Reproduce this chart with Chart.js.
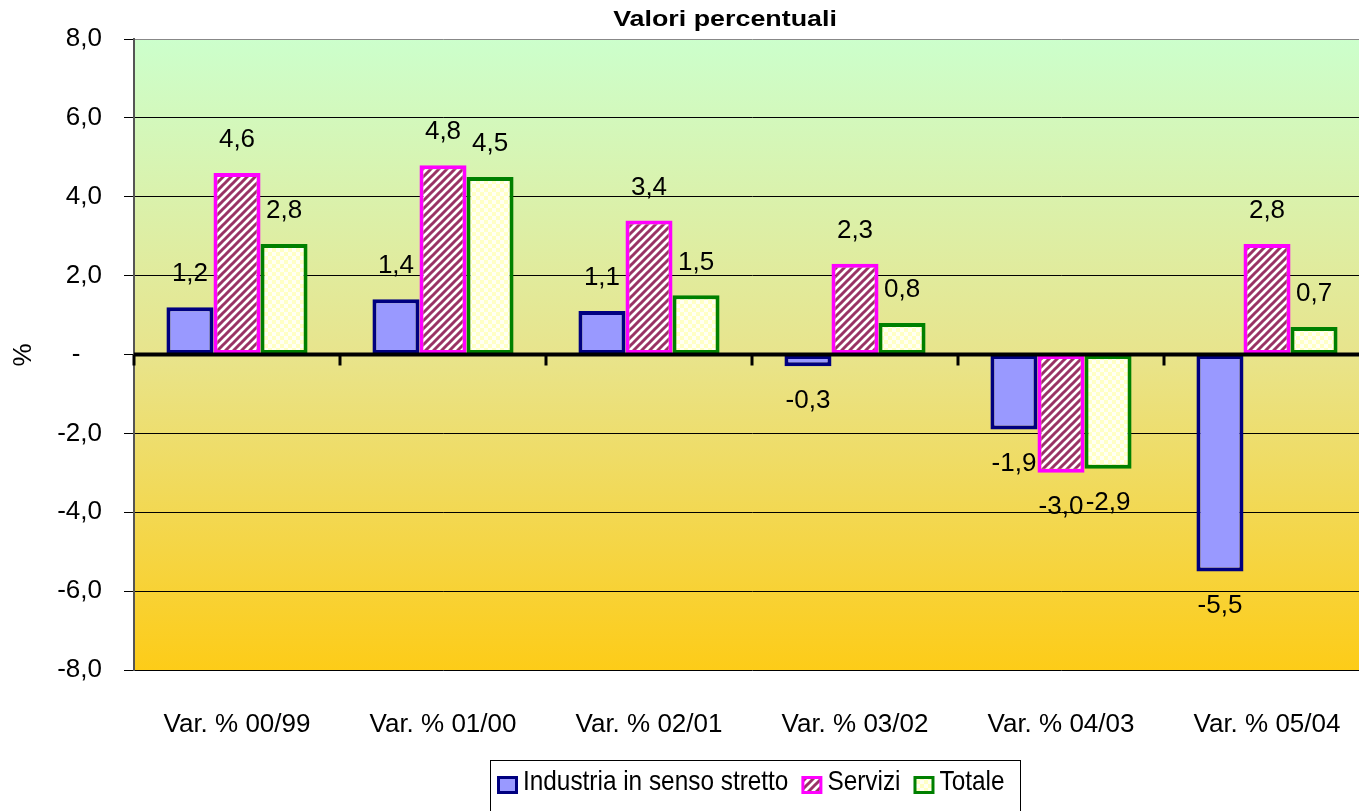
<!DOCTYPE html>
<html>
<head>
<meta charset="utf-8">
<script src="https://cdn.jsdelivr.net/npm/chart.js@4.4.1/dist/chart.umd.min.js"></script>
<style>
  html, body { margin: 0; padding: 0; background: #fff; overflow: hidden; }
  #wrap { width: 1359px; height: 811px; overflow: hidden; }
</style>
</head>
<body>
<div id="wrap"><canvas id="barChart" width="1372" height="811"></canvas></div>
<script>
// categorie e valori (variazioni %)
var categorie = ["Var. % 00/99", "Var. % 01/00", "Var. % 02/01", "Var. % 03/02", "Var. % 04/03", "Var. % 05/04"];
var industria = [1.2, 1.4, 1.1, -0.3, -1.9, -5.5];
var servizi = [4.6, 4.8, 3.4, 2.3, -3.0, 2.8];
var totale = [2.8, 4.5, 1.5, 0.8, -2.9, 0.7];
var nomiSerie = ["Industria in senso stretto", "Servizi", "Totale"];

var FONT = "'Liberation Sans', Arial, sans-serif";

function fmt(v) {
  return v.toFixed(1).replace('.', ',');
}

// pattern a righe diagonali per Servizi
function stripes() {
  var c = document.createElement('canvas');
  c.width = 8; c.height = 8;
  var x = c.getContext('2d');
  x.fillStyle = '#ffffff';
  x.fillRect(0, 0, 8, 8);
  x.strokeStyle = '#993366';
  x.lineWidth = 3;
  x.beginPath();
  x.moveTo(-2, 10); x.lineTo(10, -2);
  x.moveTo(-6, 6); x.lineTo(6, -6);
  x.moveTo(2, 14); x.lineTo(14, 2);
  x.stroke();
  return x.createPattern(c, 'repeat');
}

// pattern a scacchi per Totale
function checker() {
  var c = document.createElement('canvas');
  c.width = 8; c.height = 8;
  var x = c.getContext('2d');
  x.fillStyle = '#fffff4';
  x.fillRect(0, 0, 8, 8);
  x.fillStyle = '#ffffc4';
  x.fillRect(0, 0, 4, 4);
  x.fillRect(4, 4, 4, 4);
  return x.createPattern(c, 'repeat');
}

var fillServizi = stripes();
var fillTotale = checker();

var sfondo = {
  id: 'sfondo',
  beforeDraw: function(chart) {
    var a = chart.chartArea, ctx = chart.ctx;
    var g = ctx.createLinearGradient(0, a.top, 0, a.bottom);
    g.addColorStop(0, '#ccffcc');
    g.addColorStop(0.5, '#e8e48c');
    g.addColorStop(1, '#fdcc18');
    ctx.save();
    ctx.fillStyle = g;
    ctx.fillRect(a.left, a.top, a.right - a.left, a.bottom - a.top);
    ctx.restore();
  }
};

var extra = {
  id: 'extra',
  afterDatasetsDraw: function(chart) {
    var ctx = chart.ctx, a = chart.chartArea;
    var y0 = chart.scales.y.getPixelForValue(0);
    ctx.save();
    // linea dello zero
    ctx.strokeStyle = '#000';
    ctx.lineWidth = 4;
    ctx.beginPath();
    ctx.moveTo(a.left, y0);
    ctx.lineTo(a.right, y0);
    ctx.stroke();
    // tacche delle categorie
    var n = categorie.length;
    var w = (a.right - a.left) / n;
    ctx.lineWidth = 3;
    for (var i = 0; i <= n; i++) {
      var xx = Math.round(a.left + i * w);
      ctx.beginPath();
      ctx.moveTo(xx, y0);
      ctx.lineTo(xx, y0 + 11);
      ctx.stroke();
    }
    // etichette dei valori
    ctx.fillStyle = '#000';
    ctx.font = '26px ' + FONT;
    ctx.textAlign = 'center';
    ctx.textBaseline = 'middle';
    chart.data.datasets.forEach(function(ds, di) {
      chart.getDatasetMeta(di).data.forEach(function(bar, i) {
        var v = ds.data[i];
        var ty = v >= 0 ? bar.y - 33 : bar.y + 34;
        ctx.fillText(fmt(v), bar.x, ty);
      });
    });
    ctx.restore();
  },
  afterDraw: function(chart) {
    var ctx = chart.ctx;
    ctx.save();
    // titolo
    ctx.fillStyle = '#000';
    ctx.font = 'bold 22px ' + FONT;
    ctx.textAlign = 'center';
    ctx.textBaseline = 'middle';
    ctx.translate(725, 20);
    ctx.scale(1.22, 1);
    ctx.fillText('Valori percentuali', 0, 0);
    ctx.restore();

    // titolo asse y
    ctx.save();
    ctx.font = '26px ' + FONT;
    ctx.fillStyle = '#000';
    ctx.translate(24, 355);
    ctx.rotate(-Math.PI / 2);
    ctx.textAlign = 'center';
    ctx.textBaseline = 'middle';
    ctx.fillText('%', 0, 0);
    ctx.restore();

    // legenda (testo stretto)
    ctx.save();
    ctx.strokeStyle = '#000';
    ctx.lineWidth = 1;
    ctx.fillStyle = '#fff';
    ctx.fillRect(490.5, 760.5, 530, 60);
    ctx.strokeRect(490.5, 760.5, 530, 60);
    ctx.font = '28px ' + FONT;
    ctx.textBaseline = 'middle';
    ctx.textAlign = 'left';
    var sx = 0.87;
    var x = 497;
    chart.data.datasets.forEach(function(ds, di) {
      ctx.fillStyle = ds.borderColor;
      ctx.fillRect(x, 776, 21, 18);
      ctx.fillStyle = ds.backgroundColor;
      ctx.fillRect(x + 3, 779, 15, 12);
      ctx.fillStyle = '#000';
      ctx.save();
      ctx.translate(x + 26, 782);
      ctx.scale(sx, 1);
      ctx.fillText(nomiSerie[di], 0, 0);
      ctx.restore();
      x += 26 + ctx.measureText(nomiSerie[di]).width * sx + 13;
    });
    ctx.restore();
  }
};

new Chart("barChart", {
  type: "bar",
  data: {
    labels: categorie,
    datasets: [{
      label: nomiSerie[0],
      data: industria,
      backgroundColor: "#9999ff",
      borderColor: "#000080",
      borderWidth: 4,
      borderSkipped: false
    }, {
      label: nomiSerie[1],
      data: servizi,
      backgroundColor: fillServizi,
      borderColor: "#ff00ff",
      borderWidth: 4,
      borderSkipped: false
    }, {
      label: nomiSerie[2],
      data: totale,
      backgroundColor: fillTotale,
      borderColor: "#008000",
      borderWidth: 4,
      borderSkipped: false
    }]
  },
  options: {
    responsive: false,
    animation: false,
    devicePixelRatio: 1,
    categoryPercentage: 0.685,
    barPercentage: 1,
    layout: {
      padding: { top: 39, left: 0, right: 2, bottom: 0 }
    },
    plugins: {
      legend: { display: false },
      title: { display: false },
      tooltip: { enabled: false }
    },
    scales: {
      x: {
        grid: { display: false },
        border: { display: false },
        ticks: {
          color: '#000',
          padding: 31,
          maxRotation: 0,
          font: { family: FONT, size: 26 }
        },
        afterFit: function(scale) { scale.height = 141; }
      },
      y: {
        min: -8,
        max: 8,
        ticks: {
          stepSize: 2,
          color: '#000',
          padding: 22,
          font: { family: FONT, size: 26 },
          callback: function(v) { return v === 0 ? '-   ' : fmt(v); }
        },
        grid: {
          color: function(c) { return c.tick && c.tick.value === 8 ? '#888888' : '#000000'; },
          lineWidth: 1,
          tickLength: 10,
          tickColor: '#000'
        },
        border: { color: '#555', width: 2 },
        afterFit: function(scale) { scale.width = 134; }
      }
    }
  },
  plugins: [sfondo, extra]
});
</script>
</body>
</html>
